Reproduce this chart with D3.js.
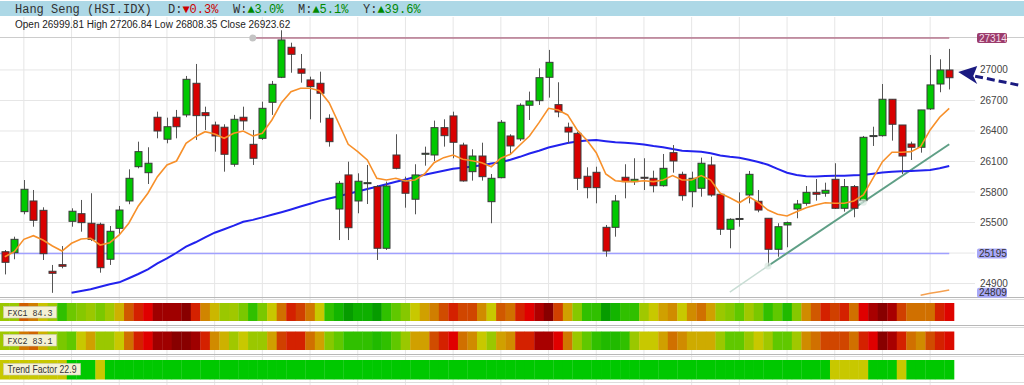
<!DOCTYPE html>
<html><head><meta charset="utf-8">
<script src="https://cdn.jsdelivr.net/npm/d3@7"></script>
<style>body{margin:0;background:#fff;} svg{display:block;}</style>
</head><body><svg id="c" width="1024" height="385"></svg>
<script>
// ---------------- DATA ----------------
const title = "Hang Seng (HSI.IDX)";
const periodLabels = ["D", "W", "M", "Y"];
const periodChanges = [-0.3, 3.0, 5.1, 39.6];
const ohlcLabels = ["Open", "High", "Low", "Close"];

const open = [25213,25204,25607,25712,25620,25021,25086,25512,25587,25493,
25483,25139,25443,25712,26049,25990,26535,26319,26535,26558,
26869,26580,26459,26437,26073,26535,26269,26328,26682,26928,
27223,27010,26902,26869,26525,25633,25968,25712,25890,25853,
25247,26164,25902,25729,26171,26164,26433,26548,26262,26000,
26154,25705,25941,26351,26322,26653,26698,26928,26659,26437,
26377,25955,25994,25453,25453,25945,25902,25945,25935,25862,
26187,25974,25803,25837,26066,25778,25434,25535,25771,25709,
25542,25237,25476,25633,25689,25797,25788,25925,25640,25853,
25715,26351,26354,26712,26459,26272,26240,26617,26862,26999.81];
const high = [25230,25361,25918,25820,25650,25083,25269,25640,25722,25788,
25499,25466,25663,26023,26295,26240,26590,26531,26607,26941,
27059,26639,26492,26466,26558,26639,26410,26688,26892,27390,
27268,27157,26934,26983,26564,25909,26098,25984,26066,25869,
25902,26368,25951,26073,26246,26502,26515,26590,26285,26220,
26285,25977,26508,26368,26672,26787,27016,27197,26879,26482,
26393,26043,26049,25476,25771,26073,26132,26132,26010,26174,
26262,26000,26000,26138,26148,25788,25542,25797,26007,25820,
25542,25493,25509,25722,25859,25928,25892,26083,25928,25869,
26351,26442,26862,26712,26459,26295,26607,27147,27105,27206.84];
const low = [24990,25139,25581,25459,25132,24809,25050,25459,25410,25318,
25007,25083,25388,25680,26033,25879,26328,26279,26328,26535,
26312,26410,26197,26000,26049,26410,26066,26312,26558,26920,
26973,26875,26515,26482,26246,25328,25328,25591,25682,25132,
25230,26023,25646,25581,26059,26105,26246,26132,25902,25912,
25912,25493,25935,26164,26302,26508,26656,26728,26535,26279,
25820,25738,25689,25164,25361,25738,25869,25820,25797,25853,
25990,25715,25650,25754,25754,25378,25247,25459,25689,25601,
25073,25164,25257,25542,25666,25715,25754,25633,25607,25552,
25699,26253,26344,26305,25977,26115,26187,26607,26781,26808.35];
const close = [25109,25335,25827,25522,25194,25001,25070,25611,25499,25335,
25056,25414,25623,25935,26197,26083,26400,26442,26442,26908,
26551,26551,26351,26171,26515,26499,26132,26623,26859,27295,
27154,26968,26836,26771,26295,25886,25449,25906,25892,25247,
25859,26033,25788,25968,26181,26433,26354,26289,25909,26154,
25951,25935,26486,26253,26653,26695,26924,27075,26587,26390,
25935,25843,25843,25220,25712,25902,25925,25940,25862,26033,
26105,25764,25935,26083,25771,25434,25532,25540,25974,25623,
25237,25459,25499,25682,25797,25778,25817,25640,25853,25640,
26338,26355,26712,26466,26154,26240,26607,26853,27000,26923.62];

// fast moving average (orange), one value per candle
const maFast = [25164,25213,25335,25371,25328,25269,25220,25296,25338,25345,
25279,25302,25378,25493,25663,25788,25951,26066,26105,26279,
26344,26393,26371,26328,26378,26400,26351,26378,26508,26678,
26787,26820,26820,26796,26678,26476,26269,26197,26115,25935,
25918,25935,25909,25918,25977,26088,26138,26164,26122,26108,
26088,26049,26132,26171,26262,26351,26482,26623,26607,26558,
26410,26312,26187,25977,25911,25902,25902,25911,25902,25918,
25961,25918,25918,25961,25918,25788,25744,25695,25754,25699,
25623,25581,25564,25607,25646,25673,25695,25689,25689,25712,
25771,25935,26098,26191,26191,26197,26246,26410,26535,26623];
// slow moving average (blue), starts at candle 7
const maSlowStart = 7;
const maSlow = [24810,24827,24844,
24869,24893,24912,24952,24994,25040,25099,25148,25203,25263,
25306,25355,25400,25434,25469,25508,25526,25551,25576,25602,
25629,25657,25685,25713,25736,25759,25783,25806,25830,25852,
25877,25901,25923,25947,25969,25989,26009,26028,26039,26051,
26064,26081,26093,26117,26146,26178,26206,26237,26260,26281,
26296,26307,26312,26300,26289,26284,26278,26268,26252,26241,
26222,26206,26202,26196,26182,26159,26146,26137,26117,26095,
26068,26028,25990,25968,25955,25952,25957,25959,25961,25964,
25968,25979,25991,25999,26003,26007,26011,26017,26033,26056];
// long moving average (orange, just entering the view), starts at candle 96
const maLongStart = 96;
const maLong = [24785,24804,24820,24837];

const yTicks = [24900,25200,25500,25800,26100,26400,26700,27000];
const resistance = 27314, resistanceFrom = 26;
const support = 25195;
const lowestLow = 24809;
const trendIdx = [76, 80, 90, 99];
const trendVal = [24817, 25073, 25699, 26270];
const trendAnchors = [80, 90];

const fxc1 = [44,44,67,62,51,45,25,37,41,44,
39,45,54,68,79,85,95,95,95,100,
79,61,53,44,45,39,25,39,50,64,
79,72,63,50,25,16,6,13,13,6,
25,35,41,50,57,62,70,79,71,71,
60,50,68,64,79,85,92,100,72,57,
41,25,25,6,16,25,25,45,50,57,
60,50,60,64,57,44,41,35,45,39,
25,35,20,41,60,68,79,72,79,64,
85,93,100,93,72,64,64,64,79,84.3];
const fxc2 = [45,45,63,66,54,45,39,35,50,57,
44,44,50,64,79,85,95,95,100,100,
95,79,60,54,45,50,44,44,57,72,
79,79,64,57,41,35,25,25,25,20,
25,35,44,57,57,70,79,85,64,60,
50,44,57,60,79,79,93,93,85,63,
44,35,25,20,20,25,44,50,50,57,
64,60,55,55,55,44,35,35,44,50,
45,35,35,45,60,64,71,71,71,64,
79,85,100,93,79,64,60,70,79,83.1];
const trendFactor = [14,15,16,17,18,18,19,21,23,22,
19,24,27,30,33,35,37,38,39,40,
41,40,39,38,36,35,34,33,33,34,
35,36,36,35,34,33,32,31,30,30,
29,29,28,28,27,27,27,26,26,26,
25,25,25,25,24,24,24,24,25,25,
26,26,27,27,28,28,28,27,27,26,
26,25,25,24,24,23,23,22,22,22,
21,21,21,21,21,20.5,20.2,19.5,18.8,18.5,
19.2,20.6,21.5,21.2,19.8,20.4,21.0,21.8,22.4,22.9];

// ---------------- DRAW ----------------
const svg = d3.select("#c");
const N = open.length;
const idx = d3.range(N);
const x = d3.scaleBand().domain(idx).range([0, 954]);
const bw = x.bandwidth();
const cx = i => x(i) + bw / 2;
const y = d3.scaleLinear().domain([24768, 27324]).range([297, 37]);

const fxcColor = d3.scaleLinear()
  .domain([0,15,25,35,45,50,57,64,72,80,85,93,100])
  .range(["#008c00","#10b400","#30c000","#60c800","#a0c800","#c8c800","#d0a000","#d07000","#d04000","#d41c00","#e00000","#a80000","#880000"]);
const tfColor = d3.scaleThreshold().domain([20]).range(["#c8c800","#00c800"]);

// header band
svg.append("rect").attr("x",0).attr("y",1).attr("width",1024).attr("height",15).attr("fill","#add8e6");

// vertical grid
const vGrid = idx.filter(i => i % 5 === 2);
svg.append("g").selectAll("line").data(vGrid).join("line")
  .attr("x1", d => cx(d)).attr("x2", d => cx(d)).attr("y1", 17).attr("y2", 385)
  .attr("stroke", "#e6e6e6").attr("stroke-width", 1);

// horizontal grid
svg.append("g").selectAll("line").data(yTicks).join("line")
  .attr("x1", 0).attr("x2", 975).attr("y1", d => y(d)).attr("y2", d => y(d))
  .attr("stroke", "#e6e6e6").attr("stroke-width", 1);

// frame lines
[[37.5,"#cccccc"],[297.5,"#b8b8b8"],[299.5,"#dddddd"],[325.5,"#b8b8b8"],[327.5,"#dddddd"],[354.5,"#b8b8b8"],[356.5,"#dddddd"],[382.5,"#dddddd"]]
  .forEach(([yy,c]) => svg.append("line").attr("x1",0).attr("x2",1024).attr("y1",yy).attr("y2",yy).attr("stroke",c).attr("stroke-width",1));

// header text
const hdr = svg.append("text").attr("x", 15).attr("y", 12.5)
  .attr("font-family", "'Liberation Mono', 'DejaVu Sans Mono', monospace").attr("font-size", 12).attr("fill", "#333");
hdr.append("tspan").text(title);
periodLabels.forEach((p, k) => {
  const v = periodChanges[k];
  hdr.append("tspan").attr("x", 168 + k * 65).attr("fill", "#333").text(p + ":");
  hdr.append("tspan").attr("fill", v < 0 ? "#cc0000" : "#008800")
     .text((v < 0 ? "\u25BC" : "\u25B2") + Math.abs(v).toFixed(1) + "%");
});
const last = N - 1;
const ohlcVals = [open[last], high[last], low[last], close[last]];
svg.append("text").attr("x", 15).attr("y", 27.5)
  .attr("font-family", "'Liberation Sans', Arial, sans-serif").attr("font-size", 10).attr("fill", "#222")
  .text(ohlcLabels.map((l, k) => l + " " + ohlcVals[k].toFixed(2)).join("  "));

// clip for plot
svg.append("defs").append("clipPath").attr("id","plotclip").append("rect")
  .attr("x",0).attr("y",17).attr("width",976).attr("height",280);
const plot = svg.append("g").attr("clip-path","url(#plotclip)");

// support line
plot.append("line").attr("x1", 0).attr("x2", cx(last)).attr("y1", y(support)).attr("y2", y(support))
  .attr("stroke", "#a0a0ff").attr("stroke-width", 1.5);
// resistance line
plot.append("line").attr("x1", cx(resistanceFrom)).attr("x2", cx(last)).attr("y1", y(resistance)).attr("y2", y(resistance))
  .attr("stroke", "#b87890").attr("stroke-width", 1.5);
plot.append("circle").attr("cx", cx(resistanceFrom)).attr("cy", y(resistance)).attr("r", 3.5).attr("fill", "#c4c4c4");

// trend line (faded before first anchor)
plot.append("line").attr("x1", cx(trendIdx[0])).attr("y1", y(trendVal[0])).attr("x2", cx(trendIdx[1])).attr("y2", y(trendVal[1]))
  .attr("stroke", "#c8ddd4").attr("stroke-width", 1.5);
plot.append("line").attr("x1", cx(trendIdx[1])).attr("y1", y(trendVal[1])).attr("x2", cx(trendIdx[3])).attr("y2", y(trendVal[3]))
  .attr("stroke", "#5f9f86").attr("stroke-width", 2);

// moving averages
const lineGen = d3.line().x(d => cx(d[0])).y(d => y(d[1]));
plot.append("path").attr("d", lineGen(maSlow.map((v, k) => [k + maSlowStart, v])))
  .attr("fill", "none").attr("stroke", "#2222ee").attr("stroke-width", 2);
plot.append("path").attr("d", lineGen(maLong.map((v, k) => [k + maLongStart, v])))
  .attr("fill", "none").attr("stroke", "#f5a050").attr("stroke-width", 1.5);

// candles
const cg = plot.append("g");
cg.selectAll("line.wick").data(idx).join("line").attr("class","wick")
  .attr("x1", d => Math.round(cx(d)) + 0.5).attr("x2", d => Math.round(cx(d)) + 0.5)
  .attr("y1", d => y(high[d])).attr("y2", d => y(low[d]))
  .attr("stroke", "#555").attr("stroke-width", 1);
cg.selectAll("rect.body").data(idx).join("rect").attr("class","body")
  .attr("x", d => Math.round(cx(d)) - 3)
  .attr("width", 7)
  .attr("y", d => y(Math.max(open[d], close[d])))
  .attr("height", d => Math.max(1, y(Math.min(open[d], close[d])) - y(Math.max(open[d], close[d]))))
  .attr("fill", d => close[d] >= open[d] ? "#00c800" : "#d80000")
  .attr("stroke", "#3a3a3a").attr("stroke-width", 1);

plot.append("path").attr("d", lineGen(maFast.map((v, k) => [k, v])))
  .attr("fill", "none").attr("stroke", "#f7902a").attr("stroke-width", 1.6);

// trend anchors
plot.selectAll("circle.anchor").data(trendAnchors).join("circle").attr("class","anchor")
  .attr("cx", d => cx(d)).attr("cy", d => y(low[d])).attr("r", 3.5)
  .attr("fill", "#d8e8e0").attr("fill-opacity", 0.7);

// right axis labels
const markerLabels = [lowestLow, support];
svg.append("g").selectAll("text").data(yTicks.filter(t => markerLabels.every(m => Math.abs(y(t) - y(m)) > 8))).join("text")
  .attr("x", 980).attr("y", d => y(d) + 3.5)
  .attr("font-family", "'Liberation Sans', Arial, sans-serif").attr("font-size", 10).attr("fill", "#444")
  .text(d => d);

function markerBox(v, bg, fg) {
  const g = svg.append("g");
  g.append("rect").attr("x", 977).attr("y", y(v) - 5).attr("width", 30).attr("height", 10).attr("rx", 2).attr("fill", bg);
  g.append("text").attr("x", 979).attr("y", y(v) + 3.5)
    .attr("font-family", "'Liberation Sans', Arial, sans-serif").attr("font-size", 10).attr("fill", fg).text(v);
}
markerBox(resistance, "#9c3c6c", "#f4dce8");
markerBox(support, "#a8a8f8", "#333");
markerBox(lowestLow, "#a8a8f8", "#333");

// arrow annotation pointing at last candle
const tipX = cx(last) + 9, tipY = y(open[last]) + 2;
svg.append("path").attr("d", `M${tipX+60},${tipY+13} L${tipX+16},${tipY+4}`)
  .attr("stroke", "#1a1a80").attr("stroke-width", 3).attr("stroke-dasharray", "8,4").attr("fill", "none");
svg.append("path").attr("d", `M${tipX},${tipY} L${tipX+19},${tipY-6} L${tipX+15},${tipY+4} L${tipX+19},${tipY+12} Z`)
  .attr("fill", "#1a1a80");

// heat rows
function heatRow(vals, top, h, colorFn) {
  svg.append("g").selectAll("rect").data(vals).join("rect")
    .attr("x", (d, i) => x(i)).attr("width", bw + 0.3)
    .attr("y", top).attr("height", h).attr("fill", d => colorFn(d));
}
heatRow(fxc1, 303, 18, fxcColor);
heatRow(fxc2, 331.5, 18.5, fxcColor);
heatRow(trendFactor, 360, 19.5, tfColor);

function rowLabel(txt, top, w, mono, tl) {
  const g = svg.append("g");
  g.append("rect").attr("x", 3.5).attr("y", top).attr("width", w).attr("height", 11.5)
    .attr("fill", "#f5f1d4").attr("stroke", "#c8c8b8").attr("stroke-width", 0.6);
  g.append("text").attr("x", 7.5).attr("y", top + 9)
    .attr("font-family", mono ? "'Liberation Mono', monospace" : "'Liberation Sans', Arial, sans-serif")
    .attr("font-size", mono ? 9.5 : 10).attr("fill", "#333")
    .attr("textLength", tl).attr("lengthAdjust", "spacingAndGlyphs").text(txt);
}
rowLabel("FXC1 " + fxc1[last].toFixed(1), 306.5, 53, true, 45);
rowLabel("FXC2 " + fxc2[last].toFixed(1), 334.5, 53, true, 45);
rowLabel("Trend Factor " + trendFactor[last].toFixed(1), 363.5, 77, false, 69);
</script></body></html>
